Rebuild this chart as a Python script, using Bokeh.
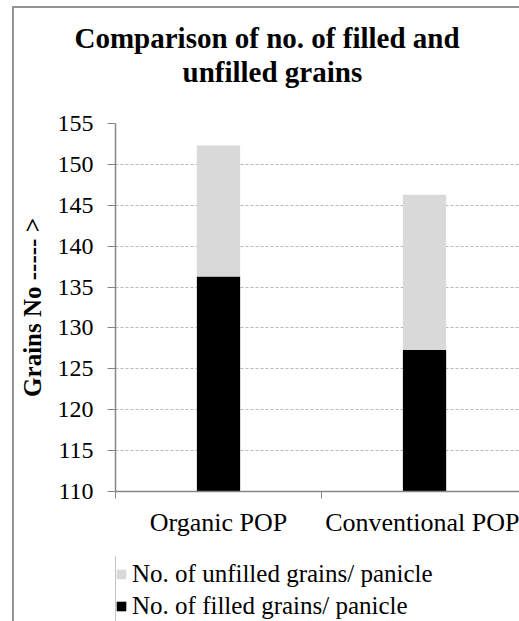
from bokeh.plotting import figure
from bokeh.layouts import column
from bokeh.models import (Range1d, FixedTicker, Title, Legend, LegendItem,
                          ColumnDataSource)
from bokeh.embed import file_html
from bokeh.resources import INLINE

categories = ["Organic POP", "Conventional POP"]
filled = [136.3, 127.3]
unfilled = [16.0, 19.0]
series_names = ["No. of filled grains/ panicle", "No. of unfilled grains/ panicle"]
series_colors = ["#000000", "#d9d9d9"]
y_ticks = [110, 115, 120, 125, 130, 135, 140, 145, 150, 155]
title_lines = ["Comparison of no. of filled and", "unfilled grains"]
y_label = "Grains No ----- >"

FONT = "Liberation Serif"
GRAY = "#939393"
xpos = [i + 0.5 for i in range(len(categories))]
src = ColumnDataSource(dict(x=xpos, filled=filled, unfilled=unfilled))

p = figure(width=519, height=555, output_backend="svg", toolbar_location=None,
           x_range=Range1d(0, 1.961), y_range=Range1d(110, 155),
           min_border_left=115, min_border_right=0, min_border_top=123,
           min_border_bottom=64, title=None)
p.outline_line_color = None
p.background_fill_color = "white"
p.border_fill_alpha = 0
p.styles = {"background": f"linear-gradient({GRAY}, {GRAY}) 12px 6px / 2px 100% no-repeat, "
                          f"linear-gradient({GRAY}, {GRAY}) 12px 6px / 507px 2px no-repeat, "
                          "white"}

rs = p.vbar_stack(["filled", "unfilled"], x="x", width=0.21, source=src,
                  color=series_colors, line_color=None)

# titles: a blank spacer first (nearest the plot), then the two title lines
p.add_layout(Title(text=" ", text_font_size="1px", standoff=33), "above")
p.add_layout(Title(text=title_lines[1], align="left", offset=67,
                   text_font=FONT, text_font_size="29px", text_font_style="bold",
                   text_color="black", standoff=0), "above")
p.add_layout(Title(text=title_lines[0], align="left", offset=-41,
                   text_font=FONT, text_font_size="29px", text_font_style="bold",
                   text_color="black", standoff=0), "above")

# axes
ax = p.xaxis[0]
ax.ticker = FixedTicker(ticks=xpos, minor_ticks=[0, 1, 2])
ax.major_label_overrides = {xv: c for xv, c in zip(xpos, categories)}
ax.major_tick_line_color = None
ax.minor_tick_line_color = "#868686"
ax.minor_tick_out = 7
ax.minor_tick_in = 0
ax.axis_line_color = "#868686"
ax.axis_line_width = 1.5
ax.major_label_text_font = FONT
ax.major_label_text_font_size = "26px"
ax.major_label_text_color = "black"
ax.major_label_standoff = 9

ay = p.yaxis[0]
ay.ticker = FixedTicker(ticks=y_ticks)
ay.major_tick_out = 8
ay.major_tick_in = 0
ay.major_tick_line_color = "#868686"
ay.minor_tick_line_color = None
ay.axis_line_color = "#868686"
ay.axis_line_width = 1.5
ay.major_label_text_font = FONT
ay.major_label_text_font_size = "24px"
ay.major_label_text_color = "black"
ay.major_label_standoff = 14
ay.axis_label = y_label
ay.axis_label_text_font = FONT
ay.axis_label_text_font_size = "25px"
ay.axis_label_text_font_style = "bold"
ay.axis_label_text_color = "black"
ay.axis_label_standoff = 9

p.xgrid.grid_line_color = None
p.ygrid.grid_line_color = "#b8b8b8"
p.ygrid.grid_line_dash = "3 2"
p.ygrid.grid_line_width = 1

# legend in a second, axis-less figure below the chart
q = figure(width=519, height=66, output_backend="svg", toolbar_location=None,
           x_range=Range1d(0, 1), y_range=Range1d(0, 1),
           x_axis_type=None, y_axis_type=None,
           min_border=0, title=None)
q.grid.grid_line_color = None
q.outline_line_color = None
q.background_fill_alpha = 0
q.border_fill_alpha = 0
q.styles = {"background": f"linear-gradient({GRAY}, {GRAY}) 12px 0px / 2px 100% no-repeat, white"}
dummy = {}
for name, col in zip(series_names, series_colors):
    # a single bar outside the visible range, used only as the legend's swatch
    dummy[name] = q.vbar(x=[-5], top=[1], width=0.1, color=col, line_color=None)

legend = Legend(items=[LegendItem(label=series_names[1], renderers=[dummy[series_names[1]]]),
                       LegendItem(label=series_names[0], renderers=[dummy[series_names[0]]])],
                location=(0, 1), orientation="vertical",
                glyph_width=12, glyph_height=12, label_standoff=5, label_height=26,
                label_text_font=FONT, label_text_font_size="25px",
                label_text_color="black", spacing=4, padding=0, margin=0,
                border_line_color=None, background_fill_alpha=0)
q.add_layout(legend, "center")

layout = column(p, q, spacing=0)
open("out.html", "w").write(file_html(layout, INLINE))
